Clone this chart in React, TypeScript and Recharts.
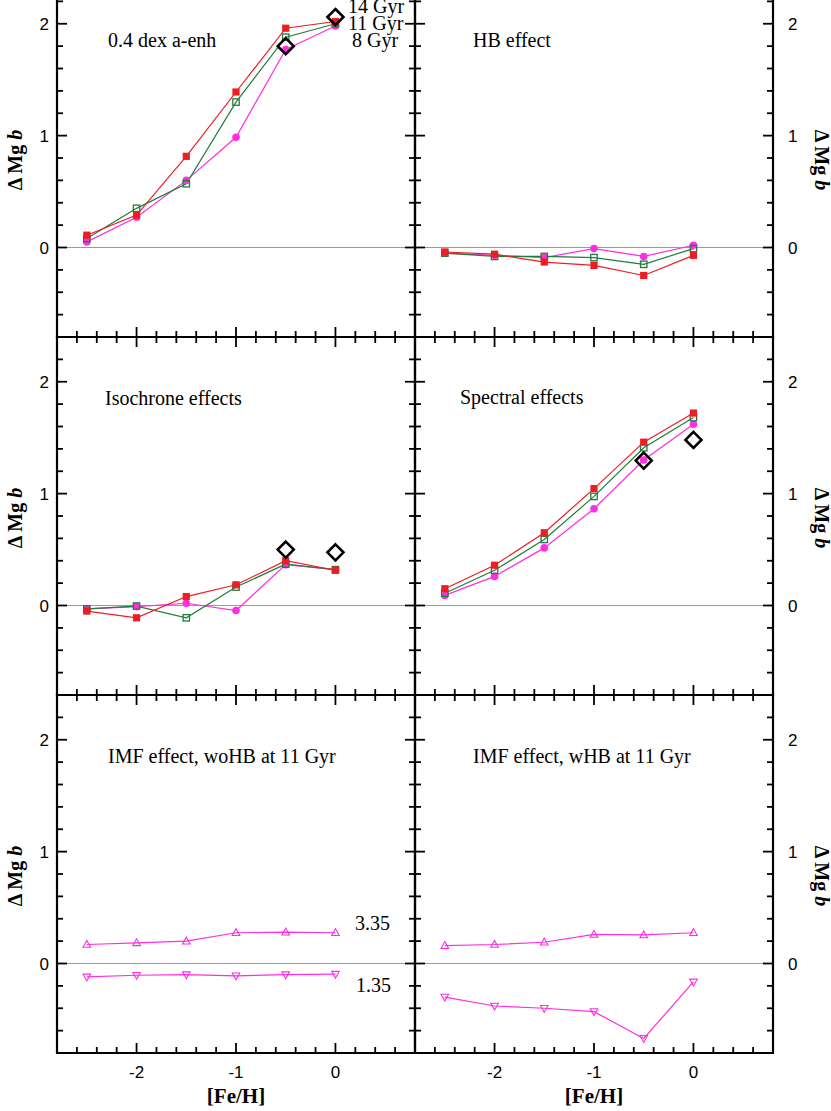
import React from 'react';
import { ComposedChart, Line, XAxis, YAxis, ReferenceLine, ReferenceArea } from 'recharts';

// [Fe/H] grid shared by every panel
const FEH = [-2.5, -2, -1.5, -1, -0.5, 0];

// 0.4 dex alpha-enhancement (14, 11, 8 Gyr) and observed diamonds
const ALPHA_14 = [0.11, 0.29, 0.815, 1.39, 1.96, 2.02];
const ALPHA_11 = [0.08, 0.35, 0.57, 1.3, 1.88, 2.0];
const ALPHA_8 = [0.05, 0.27, 0.6, 0.985, 1.77, 1.98];
const ALPHA_OBS = [null, null, null, null, 1.8, 2.06];

// HB effect
const HB_14 = [-0.04, -0.06, -0.13, -0.16, -0.25, -0.07];
const HB_11 = [-0.05, -0.08, -0.08, -0.09, -0.15, -0.01];
const HB_8 = [-0.05, -0.07, -0.09, -0.01, -0.08, 0.02];

// isochrone effects
const ISO_14 = [-0.05, -0.11, 0.08, 0.185, 0.4, 0.315];
const ISO_11 = [-0.03, -0.005, -0.11, 0.165, 0.37, 0.32];
const ISO_8 = [-0.03, -0.01, 0.02, -0.045, 0.365, 0.32];
const ISO_OBS = [null, null, null, null, 0.5, 0.475];

// spectral effects
const SPEC_14 = [0.15, 0.36, 0.65, 1.045, 1.46, 1.72];
const SPEC_11 = [0.11, 0.315, 0.59, 0.975, 1.41, 1.68];
const SPEC_8 = [0.09, 0.26, 0.515, 0.865, 1.3, 1.62];
const SPEC_OBS = [null, null, null, null, 1.295, 1.48];

// IMF slopes 3.35 / 1.35 at 11 Gyr
const IMF_WOHB_335 = [0.17, 0.185, 0.2, 0.275, 0.28, 0.275];
const IMF_WOHB_135 = [-0.12, -0.105, -0.1, -0.11, -0.1, -0.095];
const IMF_WHB_335 = [0.16, 0.17, 0.19, 0.26, 0.255, 0.275];
const IMF_WHB_135 = [-0.3, -0.38, -0.4, -0.43, -0.67, -0.165];

const X_TICKS = [-2.6, -2.4, -2.2, -2, -1.8, -1.6, -1.4, -1.2, -1, -0.8, -0.6, -0.4, -0.2, 0, 0.2, 0.4, 0.6];
const X_LABELS = [-2, -1, 0];
const Y_TICKS = [-0.6, -0.4, -0.2, 0, 0.2, 0.4, 0.6, 0.8, 1, 1.2, 1.4, 1.6, 1.8, 2, 2.2];
const Y_LABELS = [0, 1, 2];

const RED = '#ee1c24';
const GREEN = '#1f7d3a';
const MAGENTA = '#ff2ee0';

const SANS = "'Liberation Sans', Arial, Helvetica, sans-serif";
const SERIF = "'Liberation Serif', 'Times New Roman', serif";

// layout of one panel
const PW = 358;
const PH = 358;
const ML = 60;
const MR = 60;
const MT = 10;
const MB = 60;
const CW = ML + PW + MR;
const CH = MT + PH + MB;

const isMajor = (v: number) => Math.abs(v - Math.round(v)) < 1e-9;

const mkDot = (shape: string, color: string) => (p: any) => {
  const { cx, cy, index, value } = p;
  const k = `${shape}-${index}`;
  if (cx == null || cy == null || value == null) return <g key={k} />;
  if (shape === 'fsquare') return <rect key={k} x={cx - 3.6} y={cy - 3.6} width={7.2} height={7.2} fill={color} />;
  if (shape === 'osquare')
    return <rect key={k} x={cx - 3.2} y={cy - 3.2} width={6.4} height={6.4} fill="none" stroke={color} strokeWidth={1.3} />;
  if (shape === 'circle') return <circle key={k} cx={cx} cy={cy} r={3.8} fill={color} />;
  if (shape === 'diamond')
    return (
      <polygon key={k} points={`${cx},${cy - 8} ${cx + 8},${cy} ${cx},${cy + 8} ${cx - 8},${cy}`} fill="none" stroke="#000" strokeWidth={2.6} />
    );
  if (shape === 'tup')
    return <polygon key={k} points={`${cx},${cy - 4} ${cx + 3.8},${cy + 2.8} ${cx - 3.8},${cy + 2.8}`} fill="none" stroke={color} strokeWidth={1.1} />;
  return <polygon key={k} points={`${cx},${cy + 4} ${cx + 3.8},${cy - 2.8} ${cx - 3.8},${cy - 2.8}`} fill="none" stroke={color} strokeWidth={1.1} />;
};

type Series = { values: (number | null)[]; color: string; shape: string; line: boolean };
type Note = { text: string; dx: number; dy: number };

const Panel = ({ left, top, side, bottomRow, series, notes }: { left: number; top: number; side: 'left' | 'right'; bottomRow: boolean; series: Series[]; notes: Note[] }) => {
  const rows = FEH.map((f, i) => {
    const r: any = { feh: f };
    series.forEach((s, j) => (r[`s${j}`] = s.values[i]));
    return r;
  });

  const xTick = (p: any) => {
    const x = p.x;
    const v = p.payload.value;
    const len = isMajor(v) ? 10 : 6;
    return (
      <g key={`xt-${v}`}>
        <line x1={x} x2={x} y1={MT + PH} y2={MT + PH - len} stroke="#000" strokeWidth={1.8} />
        <line x1={x} x2={x} y1={MT} y2={MT + len} stroke="#000" strokeWidth={1.8} />
        {bottomRow && X_LABELS.includes(v) && (
          <text x={x} y={MT + PH + 25} textAnchor="middle" fontFamily={SANS} fontSize={17} fill="#000">
            {v}
          </text>
        )}
      </g>
    );
  };

  const yTick = (p: any) => {
    const y = p.y;
    const v = p.payload.value;
    const len = isMajor(v) ? 10 : 6;
    return (
      <g key={`yt-${v}`}>
        <line x1={ML} x2={ML + len} y1={y} y2={y} stroke="#000" strokeWidth={1.8} />
        <line x1={ML + PW} x2={ML + PW - len} y1={y} y2={y} stroke="#000" strokeWidth={1.8} />
        {Y_LABELS.includes(v) && (
          <text
            x={side === 'left' ? ML - 8 : ML + PW + 15}
            y={y}
            dy="0.36em"
            textAnchor={side === 'left' ? 'end' : 'start'}
            fontFamily={SANS}
            fontSize={17}
            fill="#000"
          >
            {v}
          </text>
        )}
      </g>
    );
  };

  const labX = side === 'left' ? 25 : ML + PW + 42;
  const labY = MT + 181;

  return (
    <div style={{ position: 'absolute', left, top, width: CW, height: CH }}>
      <ComposedChart width={CW} height={CH} data={rows} margin={{ top: MT, right: MR, bottom: 0, left: 0 }}>
        <XAxis
          type="number"
          dataKey="feh"
          domain={[-2.8, 0.8]}
          ticks={X_TICKS}
          interval={0}
          height={MB}
          axisLine={false}
          tickLine={false}
          tick={xTick}
          allowDataOverflow
        />
        <YAxis
          type="number"
          domain={[-0.8, 2.4]}
          ticks={Y_TICKS}
          interval={0}
          width={ML}
          axisLine={false}
          tickLine={false}
          tick={yTick}
          allowDataOverflow
        />
        <ReferenceLine y={0} stroke="#9a9a9a" strokeWidth={1.2} />
        {series.map((s, j) => (
          <Line
            key={`s${j}`}
            dataKey={`s${j}`}
            stroke={s.line ? s.color : 'none'}
            strokeWidth={1.2}
            dot={mkDot(s.shape, s.color)}
            activeDot={false}
            isAnimationActive={false}
          />
        ))}
        <ReferenceArea x1={-2.8} x2={0.8} y1={-0.8} y2={2.4} fill="none" stroke="#000" strokeWidth={2.2} />
        {notes.map((n, i) => (
          <text key={`n${i}`} x={ML + n.dx} y={MT + n.dy} fontFamily={SERIF} fontSize={20} fill="#000">
            {n.text}
          </text>
        ))}
        <text
          transform={`translate(${labX},${labY}) rotate(${side === 'left' ? -90 : 90})`}
          textAnchor="middle"
          fontFamily={SERIF}
          fontWeight="bold"
          fontSize={20}
          fill="#000"
        >
          <tspan>Δ Mg </tspan>
          <tspan fontStyle="italic">b</tspan>
        </text>
        {bottomRow && (
          <text x={ML + PW / 2} y={MT + PH + 50} textAnchor="middle" fontFamily={SERIF} fontWeight="bold" fontSize={21} fill="#000">
            [Fe/H]
          </text>
        )}
      </ComposedChart>
    </div>
  );
};

const age = (a14: number[], a11: number[], a8: number[], obs?: (number | null)[]): Series[] => {
  const out: Series[] = [
    { values: a8, color: MAGENTA, shape: 'circle', line: true },
    { values: a11, color: GREEN, shape: 'osquare', line: true },
    { values: a14, color: RED, shape: 'fsquare', line: true },
  ];
  if (obs) out.push({ values: obs, color: '#000', shape: 'diamond', line: false });
  return out;
};

const imf = (s335: number[], s135: number[]): Series[] => [
  { values: s335, color: MAGENTA, shape: 'tup', line: true },
  { values: s135, color: MAGENTA, shape: 'tdown', line: true },
];

const COL_L = 57 - ML;
const COL_R = 415 - ML;
const ROWS = [-21 - MT, 337 - MT, 695 - MT];

export default function App() {
  return (
    <div style={{ position: 'absolute', left: 0, top: 0, width: 831, height: 1111, overflow: 'hidden', background: '#fff' }}>
      <Panel
        left={COL_L}
        top={ROWS[0]}
        side="left"
        bottomRow={false}
        series={age(ALPHA_14, ALPHA_11, ALPHA_8, ALPHA_OBS)}
        notes={[
          { text: '0.4 dex a-enh', dx: 51, dy: 68 },
          { text: '14 Gyr', dx: 291, dy: 34 },
          { text: '11 Gyr', dx: 291, dy: 51 },
          { text: '8 Gyr', dx: 295, dy: 68 },
        ]}
      />
      <Panel
        left={COL_R}
        top={ROWS[0]}
        side="right"
        bottomRow={false}
        series={age(HB_14, HB_11, HB_8)}
        notes={[{ text: 'HB effect', dx: 58, dy: 68 }]}
      />
      <Panel
        left={COL_L}
        top={ROWS[1]}
        side="left"
        bottomRow={false}
        series={age(ISO_14, ISO_11, ISO_8, ISO_OBS)}
        notes={[{ text: 'Isochrone effects', dx: 48, dy: 68 }]}
      />
      <Panel
        left={COL_R}
        top={ROWS[1]}
        side="right"
        bottomRow={false}
        series={age(SPEC_14, SPEC_11, SPEC_8, SPEC_OBS)}
        notes={[{ text: 'Spectral effects', dx: 45, dy: 67 }]}
      />
      <Panel
        left={COL_L}
        top={ROWS[2]}
        side="left"
        bottomRow
        series={imf(IMF_WOHB_335, IMF_WOHB_135)}
        notes={[
          { text: 'IMF effect, woHB at 11 Gyr', dx: 51, dy: 68 },
          { text: '3.35', dx: 298, dy: 235 },
          { text: '1.35', dx: 299, dy: 297 },
        ]}
      />
      <Panel
        left={COL_R}
        top={ROWS[2]}
        side="right"
        bottomRow
        series={imf(IMF_WHB_335, IMF_WHB_135)}
        notes={[{ text: 'IMF effect, wHB at 11 Gyr', dx: 58, dy: 68 }]}
      />
    </div>
  );
}
